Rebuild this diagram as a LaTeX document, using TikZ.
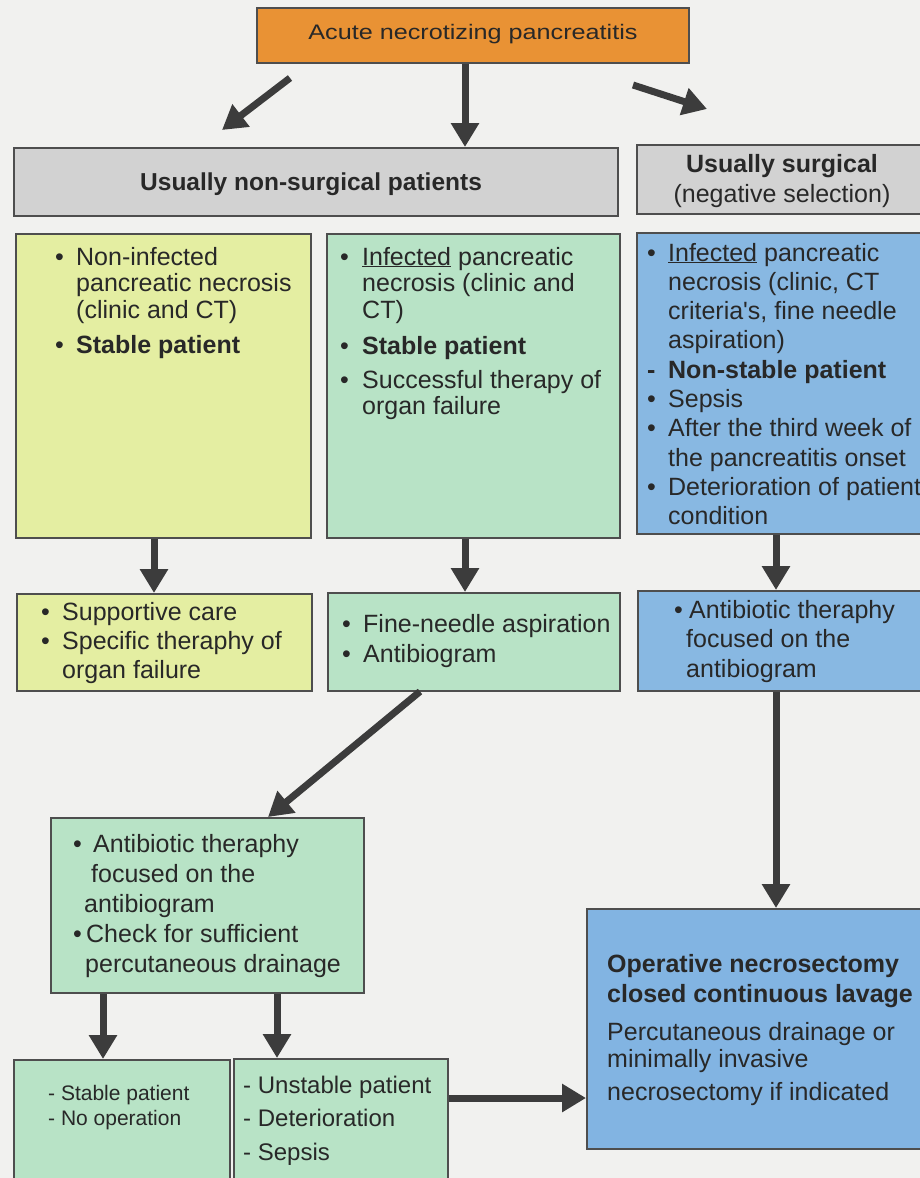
\documentclass[tikz,border=0pt]{standalone}
\usepackage{fontspec}
\setmainfont{Liberation Sans}
\usetikzlibrary{arrows.meta}
\definecolor{bgc}{RGB}{241,241,239}
\definecolor{orangebox}{RGB}{233,146,52}
\definecolor{graybox}{RGB}{210,210,210}
\definecolor{yellowbox}{RGB}{228,238,162}
\definecolor{greenbox}{RGB}{184,227,198}
\definecolor{bluebox}{RGB}{136,184,226}
\definecolor{bluebig}{RGB}{130,180,226}
\definecolor{edgec}{RGB}{78,78,78}
\definecolor{arrc}{RGB}{60,60,60}
\definecolor{txtc}{RGB}{40,40,40}
\newcommand{\fsz}[2]{\fontsize{#1}{#2}\selectfont}
\begin{document}
\begin{tikzpicture}[x=1pt,y=-1pt,
  box/.style={draw=edgec, line width=1.5pt, inner sep=0pt, anchor=north west},
  txt/.style={inner sep=0pt, anchor=base west, text=txtc},
  ctxt/.style={inner sep=0pt, anchor=base, text=txtc},
  flow/.style={draw=arrc, line width=7pt, -{Triangle[width=27pt,length=24pt]}},
]
\fill[bgc] (0,0) rectangle (920,1178);
\useasboundingbox (0,0) rectangle (920,1178);

% ---- boxes ----
\node[box, fill=orangebox, minimum width=432pt, minimum height=55pt] (title) at (256,7) {};
\node[box, fill=graybox, minimum width=604pt, minimum height=68pt] (nonsurg) at (13,147) {};
\node[box, fill=graybox, minimum width=300pt, minimum height=69pt] (surg) at (636,144) {};

\node[box, fill=yellowbox, minimum width=295pt, minimum height=304pt] (y1) at (15,233) {};
\node[box, fill=greenbox, minimum width=293pt, minimum height=304pt] (g1) at (326,233) {};
\node[box, fill=bluebox, minimum width=300pt, minimum height=301pt] (b1) at (636,232) {};

\node[box, fill=yellowbox, minimum width=295pt, minimum height=97pt] (y2) at (16,593) {};
\node[box, fill=greenbox, minimum width=292pt, minimum height=98pt] (g2) at (327,592) {};
\node[box, fill=bluebox, minimum width=300pt, minimum height=100pt] (b2) at (637,590) {};

\node[box, fill=greenbox, minimum width=313pt, minimum height=175pt] (g3) at (50,817) {};
\node[box, fill=greenbox, minimum width=216pt, minimum height=140pt] (g4) at (13,1059) {};
\node[box, fill=greenbox, minimum width=214pt, minimum height=140pt] (g5) at (233,1058) {};
\node[box, fill=bluebig, minimum width=350pt, minimum height=240pt] (op) at (586,908) {};

% ---- texts ----
\node[ctxt] (ttitle) at (473,39) {\fsz{21}{24}\scalebox{1.2}[1]{Acute necrotizing pancreatitis}};
\node[txt] (tnonsurg) at (140,190) {\fsz{24.5}{28}\bfseries Usually non-surgical patients};
\node[ctxt] (tsurg1) at (782,172) {\fsz{25}{28}\bfseries Usually surgical};
\node[ctxt] (tsurg2) at (782,202) {\fsz{25}{28}(negative selection)};

\node[txt] (ty1) at (55,265) {\fsz{25}{26.5}\begin{tabular}[t]{@{}p{21pt}@{}l@{}}
\textbullet & Non-infected\\
 & pancreatic necrosis\\
 & (clinic and CT)\\[9pt]
\textbullet & \textbf{Stable patient}
\end{tabular}};

\node[txt] (tg1) at (340,265) {\fsz{25}{26.5}\begin{tabular}[t]{@{}p{22pt}@{}l@{}}
\textbullet & \underline{Infected} pancreatic\\
 & necrosis (clinic and\\
 & CT)\\[10pt]
\textbullet & \textbf{Stable patient}\\[7pt]
\textbullet & Successful therapy of\\
 & organ failure
\end{tabular}};

\node[txt] (tb1) at (647,261) {\fsz{25}{29.3}\begin{tabular}[t]{@{}p{21pt}@{}l@{}}
\textbullet & \underline{Infected} pancreatic\\
 & necrosis (clinic, CT\\
 & criteria\textquotesingle s, fine needle\\
 & aspiration)\\
\textbf{-} & \textbf{Non-stable patient}\\
\textbullet & Sepsis\\
\textbullet & After the third week of\\
 & the pancreatitis onset\\
\textbullet & Deterioration of patient\\
 & condition
\end{tabular}};

\node[txt] (ty2) at (41,620) {\fsz{25}{29}\begin{tabular}[t]{@{}p{21pt}@{}l@{}}
\textbullet & Supportive care\\
\textbullet & Specific theraphy of\\
 & organ failure
\end{tabular}};

\node[txt] (tg2) at (342,632) {\fsz{25}{30}\begin{tabular}[t]{@{}p{21pt}@{}l@{}}
\textbullet & Fine-needle aspiration\\
\textbullet & Antibiogram
\end{tabular}};

\node[txt] (tb2) at (674,618) {\fsz{25}{29.5}\begin{tabular}[t]{@{}p{15pt}@{}l@{}}
\textbullet & Antibiotic theraphy\\
 & \hspace{-3pt}focused on the\\
 & \hspace{-3pt}antibiogram
\end{tabular}};

\node[txt] (tg3) at (73,852) {\fsz{25}{30.2}\begin{tabular}[t]{@{}p{13pt}@{}l@{}}
\textbullet & \hspace{7pt}Antibiotic theraphy\\
 & \hspace{5pt}focused on the\\
 & \hspace{-2pt}antibiogram\\
\textbullet & Check for sufficient\\
 & \hspace{-1pt}percutaneous drainage
\end{tabular}};

\node[txt] (tg4) at (48,1100) {\fsz{21}{25}\begin{tabular}[t]{@{}l@{}}
- Stable patient\\
- No operation
\end{tabular}};

\node[txt] (tg5) at (243,1093) {\fsz{24}{33.5}\begin{tabular}[t]{@{}l@{}}
- Unstable patient\\
- Deterioration\\
- Sepsis
\end{tabular}};

\node[txt] (top) at (607,972) {\fsz{25}{30}\begin{tabular}[t]{@{}l@{}}
\textbf{Operative necrosectomy}\\
\textbf{closed continuous lavage}\\[8pt]
Percutaneous drainage or\\[-3pt]
minimally invasive\\[3pt]
necrosectomy if indicated
\end{tabular}};

% ---- arrow guide coordinates ----
\coordinate (l1s) at (290,78);
\coordinate (l1e) at (222,130);
\coordinate (r1s) at (633,85);
\coordinate (r1e) at (707,109);
\coordinate (cx465) at (465,0);
\coordinate (cx153) at (154,0);
\coordinate (cx776) at (776,0);
\coordinate (cx420) at (420,0);
\coordinate (cx268) at (268,0);
\coordinate (cx103) at (103,0);
\coordinate (cx277) at (277,0);
\coordinate (cy1098) at (0,1098);

% ---- connectors ----
\draw[flow] (l1s) -- (l1e);
\draw[flow] (r1s) -- (r1e);
\draw[flow] (title.south -| cx465) -- (nonsurg.north -| cx465);
\draw[flow] (y1.south -| cx153) -- (y2.north -| cx153);
\draw[flow] (g1.south -| cx465) -- (g2.north -| cx465);
\draw[flow] (b1.south -| cx776) -- (b2.north -| cx776);
\draw[flow] (g2.south -| cx420) -- (g3.north -| cx268);
\draw[flow] (g3.south -| cx103) -- (g4.north -| cx103);
\draw[flow] (g3.south -| cx277) -- (g5.north -| cx277);
\draw[flow] (g5.east |- cy1098) -- (op.west |- cy1098);
\draw[flow] (b2.south -| cx776) -- (op.north -| cx776);
\end{tikzpicture}
\end{document}
